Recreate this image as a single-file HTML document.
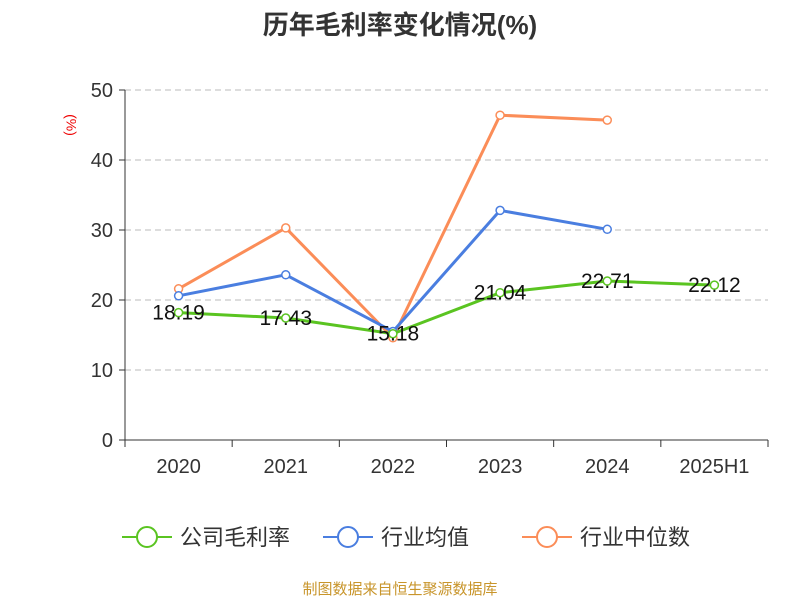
<!DOCTYPE html>
<html><head><meta charset="utf-8">
<style>
body{margin:0;background:#fff;}
svg text{font-family:"Liberation Sans","Noto Sans CJK SC",sans-serif;}
</style></head>
<body>
<svg width="800" height="600" id="chart">
<text x="400" y="34" text-anchor="middle" font-size="26" font-weight="bold" fill="#333">历年毛利率变化情况(%)</text>
<text x="70" y="125" transform="rotate(90 70 125)" text-anchor="middle" font-size="14" fill="#e00" dominant-baseline="middle">(%)</text>
<g id="grid"></g>
<g id="axes"></g>
<g id="series"></g>
<g id="legend"></g>
<text x="400" y="594" text-anchor="middle" font-size="15" fill="#c8952b">制图数据来自恒生聚源数据库</text>
</svg>
<script>
const categories=["2020","2021","2022","2023","2024","2025H1"];
const companyVals=[18.19,17.43,15.18,21.04,22.71,22.12];
const industryAvg=[20.6,23.6,15.5,32.8,30.1,null];
const industryMed=[21.6,30.3,14.6,46.4,45.7,null];
const yTicks=[0,10,20,30,40,50];
const NS="http://www.w3.org/2000/svg";
const x0=125,x1=768,y0=440,y1=90,yMax=50;
const bw=(x1-x0)/categories.length;
const xs=i=>x0+bw*(i+0.5);
const ys=v=>y0-(v/yMax)*(y0-y1);
function mk(t,a,p){const e=document.createElementNS(NS,t);for(const k in a)e.setAttribute(k,a[k]);p.appendChild(e);return e;}
const grid=document.getElementById('grid'),axes=document.getElementById('axes'),ser=document.getElementById('series'),leg=document.getElementById('legend');
yTicks.forEach(v=>{
 if(v>0){const l=mk('line',{x1:x0,x2:x1,y1:ys(v),y2:ys(v),stroke:'#bbb','stroke-dasharray':'6,4'},grid);
 
 }
 const tk=mk('line',{x1:x0-6,x2:x0,y1:ys(v),y2:ys(v),stroke:'#333'},axes);
 
 
 const t=mk('text',{x:x0-12,y:ys(v)+7,'text-anchor':'end','font-size':20,fill:'#333'},axes);t.textContent=v;
 
 
});
const ya=mk('line',{x1:x0,x2:x0,y1:y1,y2:y0,stroke:'#333'},axes);


const xa=mk('line',{x1:x0,x2:x1,y1:y0,y2:y0,stroke:'#333'},axes);


for(let i=0;i<=categories.length;i++){const t=mk('line',{x1:x0+bw*i,x2:x0+bw*i,y1:y0,y2:y0+7,stroke:'#333'},axes);
 
 }
categories.forEach((c,i)=>{const t=mk('text',{x:xs(i),y:473,'text-anchor':'middle','font-size':20,fill:'#333'},axes);t.textContent=c;
 
 });
function series(vals,color,name,labels){
 const g=mk('g',{},ser);
 
 
 const pts=vals.map((v,i)=>v==null?null:[xs(i),ys(v)]).filter(p=>p);
 const pl=mk('polyline',{points:pts.map(p=>p.join(',')).join(' '),fill:'none',stroke:color,'stroke-width':3},g);
 
 
 vals.forEach((v,i)=>{if(v==null)return;
  const c=mk('circle',{cx:xs(i),cy:ys(v),r:4,fill:'#fff',stroke:color,'stroke-width':1.5},g);
  
  
  if(labels){const t=mk('text',{x:xs(i),y:ys(v)+7,'text-anchor':'middle','font-size':21,fill:'#111'},g);t.textContent=v.toFixed(2);
   
   }
 });
}
series(industryMed,'#fb8d58','industry-median',false);
series(industryAvg,'#4a7ee0','industry-average',false);
series(companyVals,'#5ac421','company',true);
const items=[['公司毛利率','#5ac421',122],['行业均值','#4a7ee0',323],['行业中位数','#fb8d58',522]];
items.forEach(([n,c,x])=>{
 const g=mk('g',{},leg);
 
 
 mk('line',{x1:x,x2:x+50,y1:537,y2:537,stroke:c,'stroke-width':2},g);
 mk('circle',{cx:x+25,cy:537,r:10,fill:'#fff',stroke:c,'stroke-width':2},g);
 const t=mk('text',{x:x+58,y:545,'font-size':22,fill:'#333'},g);t.textContent=n;
});
</script>
</body></html>
